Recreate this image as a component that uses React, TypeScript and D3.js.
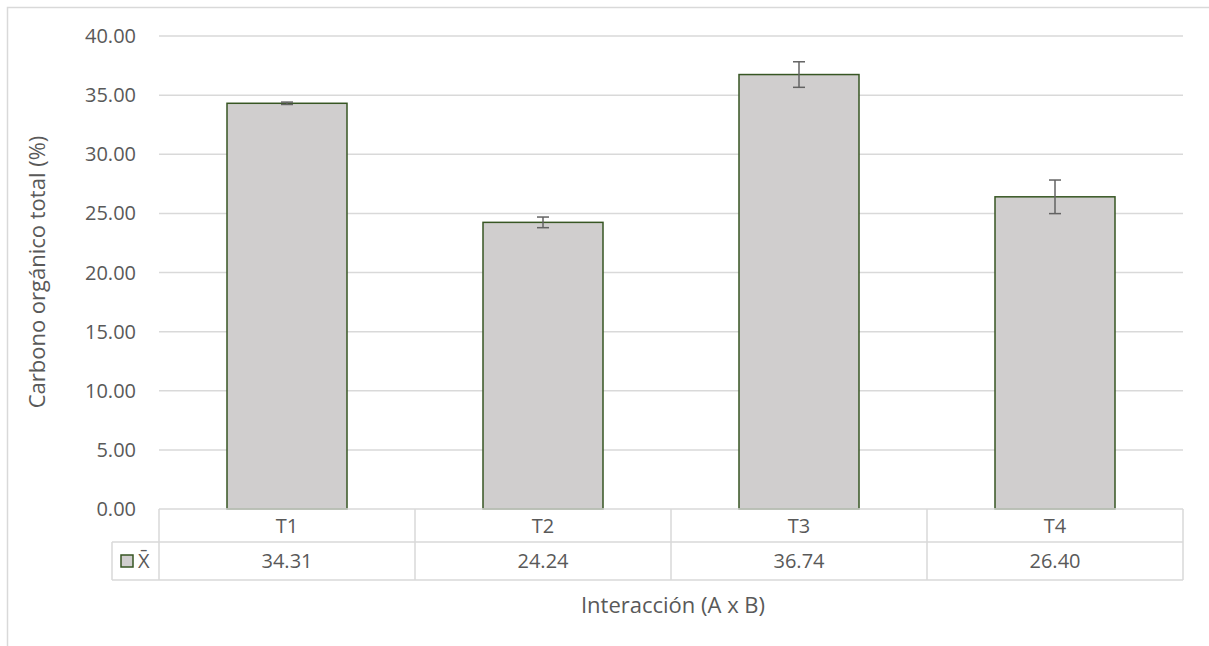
import React from "react";
import * as d3 from "d3";

const categories = ["T1", "T2", "T3", "T4"];
const means = [34.31, 24.24, 36.74, 26.4];
const errors = [0.1, 0.45, 1.08, 1.42];
const yTicks = [0, 5, 10, 15, 20, 25, 30, 35, 40];
const seriesName = "X\u0304";
const yTitle = "Carbono orgánico total (%)";
const xTitle = "Interacción (A x B)";

const W = 1209;
const H = 646;
const FONT = "'Open Sans', sans-serif";
const TXT = "#595959";
const GRID = "#d9d9d9";

export default function App() {
  const left = 159, right = 1183, top = 36, bottom = 509;
  const x = d3.scaleBand<string>().domain(categories).range([left, right]).paddingInner(0).paddingOuter(0);
  const y = d3.scaleLinear().domain([0, 40]).range([bottom, top]);
  const bw = 120;
  const row1 = 542, row2 = 580;
  const legLeft = 112;
  const fs = 20;
  const ts = 22;

  return (
    <svg width={W} height={H} style={{ position: "absolute", left: 0, top: 0 }} fontFamily={FONT}>
      <rect x={0} y={0} width={W} height={H} fill="#fff" />
      <path d={`M7.5,${H} V7.5 H${W}`} fill="none" stroke={GRID} strokeWidth={1.5} />
      {yTicks.map((t) => (
        <g key={t}>
          {t > 0 && <line x1={left} x2={right} y1={y(t)} y2={y(t)} stroke={GRID} strokeWidth={1.5} />}
          <text x={136} y={y(t)} dy="0.35em" textAnchor="end" fontSize={fs} fill={TXT}>
            {d3.format(".2f")(t)}
          </text>
        </g>
      ))}
      {categories.map((c, i) => {
        const cx = x(c)! + x.bandwidth() / 2;
        const v = means[i];
        const e = errors[i];
        return (
          <g key={c}>
            <rect x={cx - bw / 2} y={y(v)} width={bw} height={y(0) - y(v)} fill="#d0cece" stroke="#375623" strokeWidth={1.5} />
            <line x1={cx} x2={cx} y1={y(v + e)} y2={y(v - e)} stroke="#636363" strokeWidth={1.5} />
            <line x1={cx - 6} x2={cx + 6} y1={y(v + e)} y2={y(v + e)} stroke="#636363" strokeWidth={1.5} />
            <line x1={cx - 6} x2={cx + 6} y1={y(v - e)} y2={y(v - e)} stroke="#636363" strokeWidth={1.5} />
          </g>
        );
      })}
      <g stroke={GRID} strokeWidth={1.5} fill="none">
        <line x1={left} x2={right} y1={bottom} y2={bottom} />
        <line x1={legLeft} x2={right} y1={row1} y2={row1} />
        <line x1={legLeft} x2={right} y1={row2} y2={row2} />
        <line x1={legLeft} x2={legLeft} y1={row1} y2={row2} />
        {[...categories.map((c) => x(c)!), right].map((xx, i) => (
          <line key={i} x1={xx} x2={xx} y1={bottom} y2={row2} />
        ))}
      </g>
      {categories.map((c, i) => {
        const cx = x(c)! + x.bandwidth() / 2;
        return (
          <g key={c}>
            <text x={cx} y={(bottom + row1) / 2} dy="0.35em" textAnchor="middle" fontSize={fs} fill={TXT}>{c}</text>
            <text x={cx} y={(row1 + row2) / 2} dy="0.35em" textAnchor="middle" fontSize={fs} fill={TXT}>{d3.format(".2f")(means[i])}</text>
          </g>
        );
      })}
      <rect x={121} y={555} width={12} height={12} fill="#d0cece" stroke="#375623" strokeWidth={1.5} />
      <text x={138} y={(row1 + row2) / 2} dy="0.35em" fontSize={fs} fill={TXT}>{seriesName}</text>
      <text x={673} y={605} dy="0.35em" textAnchor="middle" fontSize={ts} fill={TXT}>{xTitle}</text>
      <text transform={`translate(37,272) rotate(-90)`} dy="0.35em" textAnchor="middle" fontSize={ts} fill={TXT}>{yTitle}</text>
    </svg>
  );
}
